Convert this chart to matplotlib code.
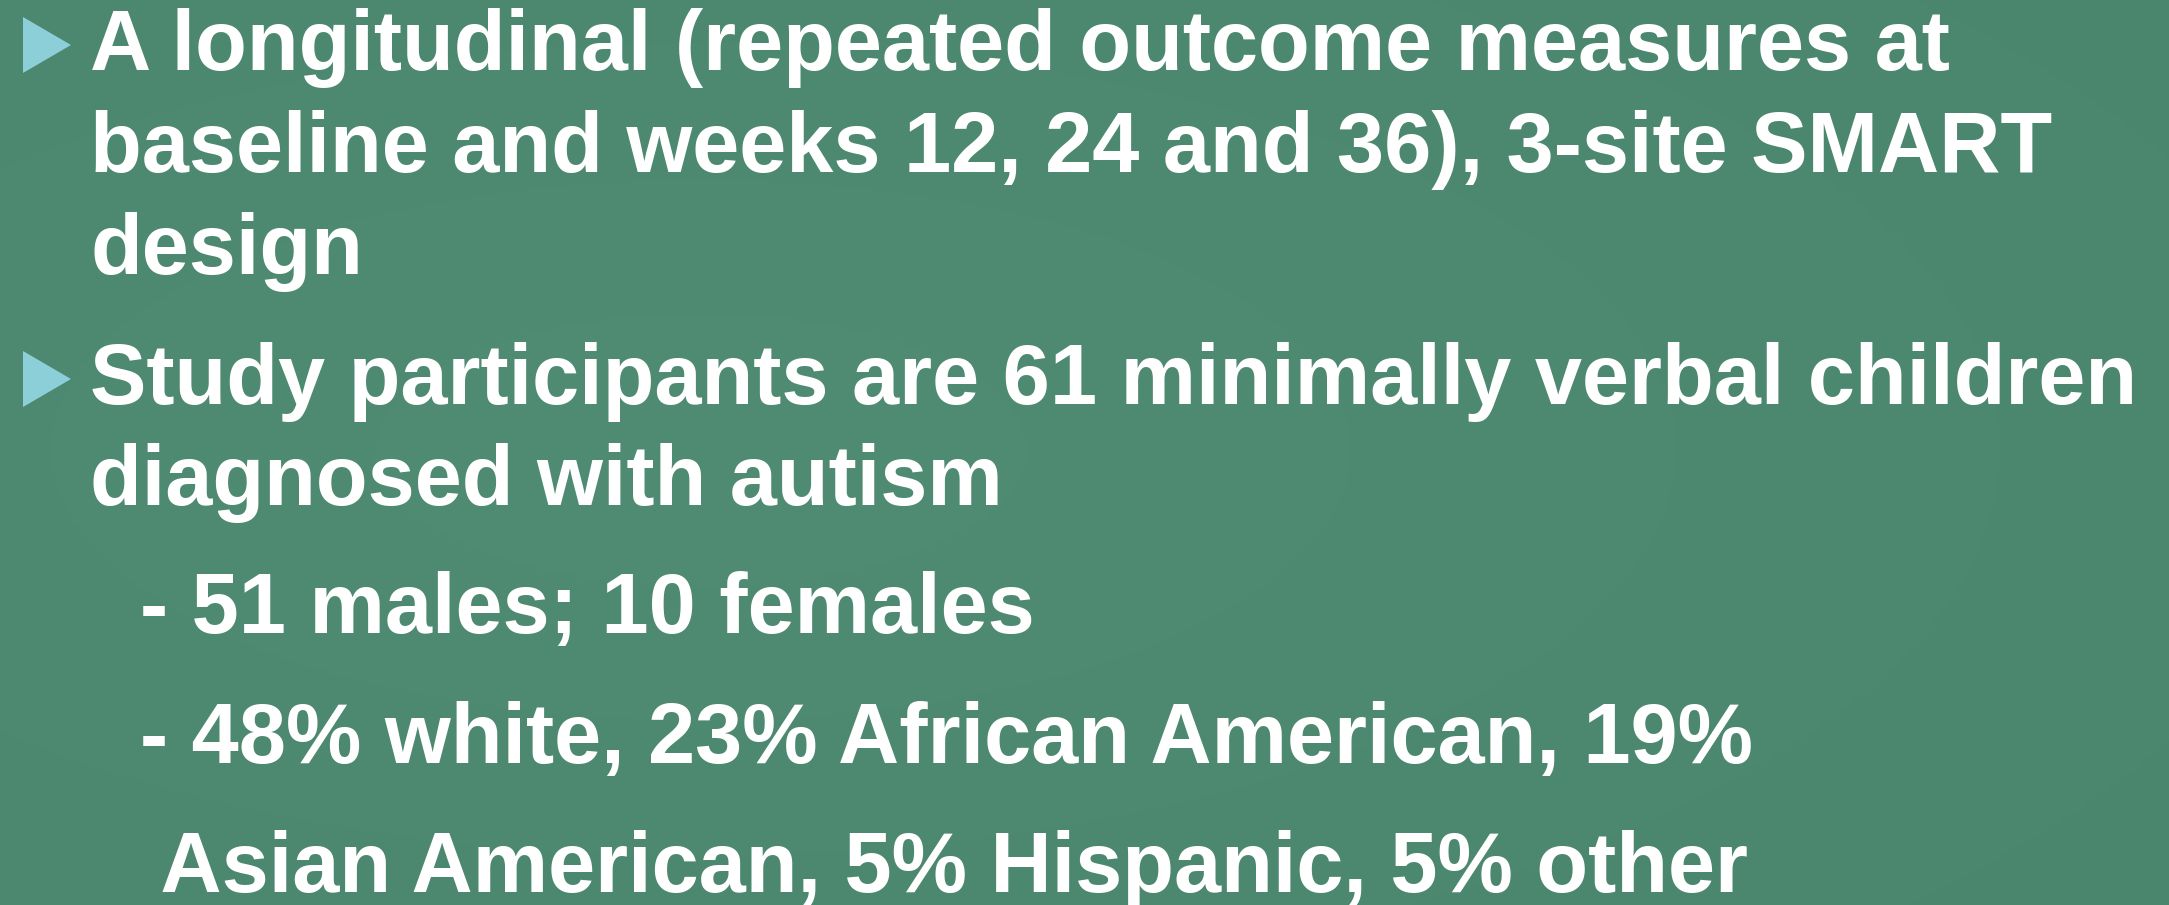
import matplotlib
matplotlib.use("Agg")
import matplotlib.pyplot as plt
import numpy as np

# slide content
bullet_lines = [
    ["A longitudinal (repeated outcome measures at",
     "baseline and weeks 12, 24 and 36), 3-site SMART",
     "design"],
    ["Study participants are 61 minimally verbal children",
     "diagnosed with autism"],
]
sub_lines = [
    "- 51 males; 10 females",
    "- 48% white, 23% African American, 19%",
    " Asian American, 5% Hispanic, 5% other",
]
bullet_baselines = [[70, 172, 274], [404, 505]]
sub_baselines = [633, 763, 892]
sub_x = [140, 140, 140]

W, H = 2169, 905
BG = "#4c8870"
TRI = "#8dcfd8"

fig = plt.figure(figsize=(W / 100, H / 100), dpi=100)
ax = fig.add_axes([0, 0, 1, 1])
ax.set_xlim(0, W)
ax.set_ylim(H, 0)
ax.axis("off")

# soft radial background
yy, xx = np.mgrid[0:H:4, 0:W:4]
r = np.sqrt(((xx - 700) / W) ** 2 + ((yy - 450) / H) ** 2)
base = np.array([0x50, 0x8c, 0x73]) / 255
edge = np.array([0x4a, 0x85, 0x6e]) / 255
t = np.clip(r / 0.9, 0, 1)[..., None]
img = base * (1 - t) + edge * t
ax.imshow(img, extent=[0, W, H, 0], aspect="auto", zorder=0)

font = dict(family=["Liberation Sans", "DejaVu Sans"], weight="bold",
            color="white", fontsize=61, va="baseline", ha="left")

text_x = 90
for lines, bases in zip(bullet_lines, bullet_baselines):
    # triangle bullet next to first line
    b = bases[0]
    ax.fill([23, 71, 23], [b - 53, b - 25, b + 3], color=TRI, lw=0, zorder=2)
    for line, y in zip(lines, bases):
        ax.text(text_x, y, line, **font)

for line, x, y in zip(sub_lines, sub_x, sub_baselines):
    ax.text(x, y, line, **font)

fig.savefig("out.png", dpi=100, facecolor=BG)
